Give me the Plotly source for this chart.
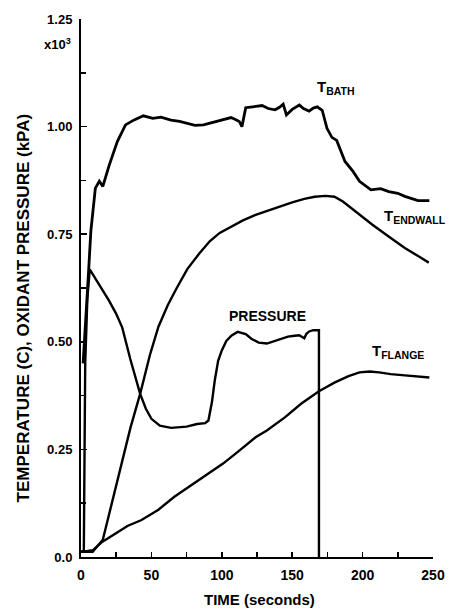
import plotly.graph_objects as go

# ---- data ----
bath_t = [1.5, 3.5, 5.5, 7, 10.2, 13, 15.5, 20, 25.8, 31.6, 37.4, 44.3, 51, 56.8, 63.9, 70,
          75.5, 81, 87, 92, 96.3, 101, 106.6, 110, 112.4, 114.3, 117, 122, 128.6, 133, 137.8,
          141, 143.6, 145.9, 150, 155.1, 158, 162, 165, 167.8, 171.3, 174.7, 178.2, 181.6,
          187.5, 193.2, 197.8, 205.9, 212.8, 218.6, 225, 230, 239.4, 247.4]
bath_v = [0.45, 0.55, 0.67, 0.757, 0.857, 0.873, 0.861, 0.91, 0.965, 1.004, 1.015, 1.025,
          1.019, 1.022, 1.015, 1.012, 1.008, 1.003, 1.004, 1.008, 1.012, 1.015, 1.021, 1.016,
          1.012, 1.0, 1.044, 1.046, 1.049, 1.042, 1.039, 1.045, 1.052, 1.027, 1.04, 1.05,
          1.042, 1.036, 1.043, 1.046, 1.038, 0.996, 0.975, 0.968, 0.919, 0.896, 0.873, 0.853,
          0.856, 0.849, 0.845, 0.838, 0.828, 0.828]

endwall_t = [0, 8.3, 15.5, 22.4, 28.2, 35.1, 42, 49, 55, 61.6, 68, 75.5, 84, 91.6, 98.5, 105,
             115, 124, 137.8, 150, 158.6, 166, 173.6, 180, 186, 196, 207, 218, 230, 240, 247]
endwall_v = [0.012, 0.012, 0.04, 0.13, 0.21, 0.30, 0.379, 0.47, 0.535, 0.585, 0.625, 0.669,
             0.705, 0.734, 0.753, 0.765, 0.782, 0.795, 0.811, 0.824, 0.832, 0.837, 0.839,
             0.837, 0.826, 0.80, 0.772, 0.746, 0.718, 0.698, 0.684]

pressure_t = [0, 2, 3, 4.5, 6.2, 10, 14.3, 20, 25, 29.3, 35, 42, 46, 50, 56, 64, 75, 82.4,
              88.2, 90.5, 93, 95, 97.4, 100, 103.2, 107, 111.3, 117, 121, 126.2, 132, 137,
              142.4, 147, 151.7, 155, 158.6, 160, 162, 165, 169, 169]
pressure_v = [0.012, 0.015, 0.45, 0.6, 0.668, 0.648, 0.626, 0.595, 0.565, 0.533, 0.46, 0.379,
              0.345, 0.321, 0.305, 0.30, 0.303, 0.309, 0.311, 0.317, 0.36, 0.41, 0.456, 0.48,
              0.502, 0.515, 0.523, 0.518, 0.507, 0.498, 0.496, 0.501, 0.508, 0.512, 0.514,
              0.515, 0.508, 0.518, 0.524, 0.527, 0.527, 0.0]

flange_t = [0, 8.5, 15, 24.7, 33, 43, 55, 66.3, 80, 90, 100.9, 112, 124, 132, 145, 156.3, 169,
            180, 190, 197.8, 205, 211.7, 220, 230, 240, 247.4]
flange_v = [0.012, 0.016, 0.035, 0.055, 0.072, 0.086, 0.11, 0.14, 0.17, 0.193, 0.217, 0.246,
            0.278, 0.294, 0.325, 0.356, 0.385, 0.405, 0.42, 0.429, 0.431, 0.429, 0.425, 0.422,
            0.419, 0.417]

x_ticks = [0, 50, 100, 150, 200, 250]
y_ticks = [0, 0.25, 0.5, 0.75, 1.0, 1.25]
y_ticktext = ["0.0", "0.25", "0.50", "0.75", "1.00", "1.25"]

labels = [
    ("T<sub>BATH</sub>", 181.0, 1.09, "center"),
    ("T<sub>ENDWALL</sub>", 214.0, 0.792, "left"),
    ("PRESSURE", 132.5, 0.560, "center"),
    ("T<sub>FLANGE</sub>", 205.5, 0.478, "left"),
]

FONT = "Liberation Sans, Arial, sans-serif"

fig = go.Figure()
for tx, vy, w in [(bath_t, bath_v, 2.8), (endwall_t, endwall_v, 2.4),
                  (pressure_t, pressure_v, 2.4), (flange_t, flange_v, 2.4)]:
    fig.add_trace(go.Scatter(x=tx, y=vy, mode="lines",
                             line=dict(color="black", width=w), showlegend=False,
                             hoverinfo="skip"))

annotations = []
for txt, ax, ay, anc in labels:
    size = 14 if txt == "PRESSURE" else 15
    annotations.append(dict(x=ax, y=ay, xref="x", yref="y", text=f"<b>{txt}</b>",
                            showarrow=False, xanchor=anc, yanchor="middle",
                            font=dict(family=FONT, size=size, color="black")))

annotations += [
    dict(x=-0.066, y=0.954, xref="paper", yref="paper", text="<b>x10<sup>3</sup></b>",
         showarrow=False, xanchor="center", yanchor="middle",
         font=dict(family=FONT, size=13, color="black")),
    dict(x=-0.1634, y=0.463, xref="paper", yref="paper",
         text="<b>TEMPERATURE (C), OXIDANT PRESSURE (kPA)</b>", textangle=-90,
         showarrow=False, xanchor="center", yanchor="middle",
         font=dict(family=FONT, size=17, color="black")),
    dict(x=0.5068, y=-0.0796, xref="paper", yref="paper", text="<b>TIME (seconds)</b>",
         showarrow=False, xanchor="center", yanchor="middle",
         font=dict(family=FONT, size=15, color="black")),
]

fig.update_layout(
    width=457, height=612,
    margin=dict(l=81, r=15, t=17, b=55),
    paper_bgcolor="white", plot_bgcolor="white",
    font=dict(family=FONT, size=14, color="black"),
    annotations=annotations,
    xaxis=dict(range=[0, 250], tickvals=x_ticks, ticktext=[f"<b>{v}</b>" for v in x_ticks],
               ticks="inside", ticklen=5, tickwidth=1.5, tickcolor="black",
               minor=dict(dtick=25, ticks="inside", ticklen=5, tickwidth=1.5, tickcolor="black"),
               showline=True, linecolor="black", linewidth=2, showgrid=False, zeroline=False,
               ticklabelstandoff=4, tickfont=dict(size=14)),
    yaxis=dict(range=[0, 1.25], tickvals=y_ticks, ticktext=[f"<b>{t}</b>" for t in y_ticktext],
               ticks="inside", ticklen=6, tickwidth=1.5, tickcolor="black",
               minor=dict(dtick=0.125, ticks="inside", ticklen=5, tickwidth=1.5, tickcolor="black"),
               showline=True, linecolor="black", linewidth=2, showgrid=False, zeroline=False,
               ticklabelstandoff=4, tickfont=dict(size=13)),
)

fig.write_html("out.html", config={"displayModeBar": False, "staticPlot": True},
               post_script="document.body.style.margin='0';document.body.style.overflow='hidden';")
